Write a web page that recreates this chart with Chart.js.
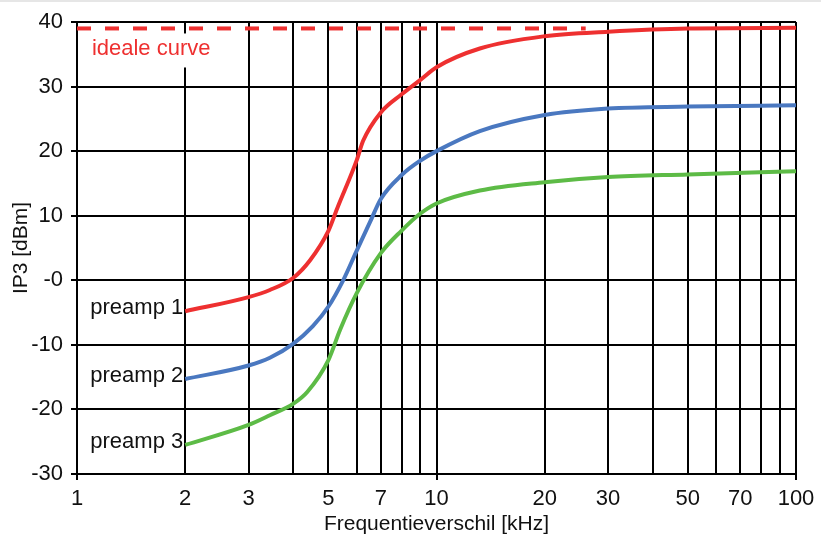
<!DOCTYPE html>
<html>
<head>
<meta charset="utf-8">
<script src="https://cdn.jsdelivr.net/npm/chart.js@4/dist/chart.umd.min.js"></script>
<style>
    html, body { margin: 0; padding: 0; background: #fff; }
    #topBar { position: absolute; left: 0; top: 0; width: 821px; height: 2px; background: #e6e6e6; }
</style>
</head>
<body>
<canvas id="ip3Chart" width="821" height="543"></canvas>
<div id="topBar"></div>
<script>
// frequency offset [kHz] and IP3 [dBm]
const freqPreamp1 = [2, 3, 3.44, 4, 4.45, 5, 5.3, 6, 6.25, 7, 8, 9, 10, 13.2, 20, 30, 50, 100];
const ip3Preamp1 = [-4.8, -2.6, -1.5, 0.4, 3.1, 7.6, 11.2, 18.6, 21.6, 26.0, 28.8, 31.0, 33.0, 35.9, 37.8, 38.5, 39.0, 39.1];

const freqPreamp2 = [2, 3, 3.44, 4, 4.53, 5, 5.5, 6, 6.53, 7, 8, 9, 10, 13.2, 20, 30, 50, 100];
const ip3Preamp2 = [-15.3, -13.2, -12.0, -9.8, -7.1, -4.1, 0, 4.6, 9.0, 12.6, 16.3, 18.5, 20.0, 23.1, 25.6, 26.6, 26.9, 27.1];

const freqPreamp3 = [2, 3, 3.44, 4, 4.37, 5, 5.39, 6, 7, 8, 9, 10, 13.2, 20, 30, 50, 100];
const ip3Preamp3 = [-25.5, -22.4, -20.9, -19.1, -17.3, -12.4, -7.7, -2.0, 4.2, 7.7, 10.3, 11.9, 13.9, 15.2, 16.0, 16.4, 16.9];

const freqIdeal = [1, 26];
const ip3Ideal = [39, 39];

const seriesNames = ['preamp 1', 'preamp 2', 'preamp 3'];
const idealName = 'ideale curve';

const xGridValues = [1, 2, 3, 4, 5, 6, 7, 8, 9, 10, 20, 30, 40, 50, 60, 70, 80, 90, 100];
const xLabelValues = [1, 2, 3, 5, 7, 10, 20, 30, 50, 70, 100];
const xMajorValues = [1, 10, 100];
const yTickValues = [-30, -20, -10, 0, 10, 20, 30, 40];

const RED = '#ee3030';
const BLUE = '#4a78c0';
const GREEN = '#5dbb46';
const FONT = 'Liberation Sans, Arial, sans-serif';

Chart.defaults.font.family = FONT;
Chart.defaults.font.size = 22;
Chart.defaults.color = '#111';

function toPoints(xs, ys) {
    return xs.map((x, i) => ({ x: x, y: ys[i] }));
}

const curveLabels = {
    id: 'curveLabels',
    afterDatasetsDraw(chart) {
        const ctx = chart.ctx;
        const xs = chart.scales.x;
        const ys = chart.scales.y;
        ctx.save();
        ctx.font = '22px ' + FONT;

        // preamp names end where each curve starts
        const starts = [
            [freqPreamp1[0], ip3Preamp1[0]],
            [freqPreamp2[0], ip3Preamp2[0]],
            [freqPreamp3[0], ip3Preamp3[0]]
        ];
        ctx.fillStyle = '#111';
        ctx.textAlign = 'right';
        ctx.textBaseline = 'middle';
        starts.forEach((s, i) => {
            ctx.fillText(seriesNames[i], xs.getPixelForValue(s[0]) - 2, ys.getPixelForValue(s[1]) - 3);
        });

        // ideal curve label on a white box
        const tx = xs.getPixelForValue(1.1);
        const ty = ys.getPixelForValue(35.9);
        const w = ctx.measureText(idealName).width;
        ctx.fillStyle = '#fff';
        ctx.fillRect(tx - 4, ty - 15, w + 8, 34);
        ctx.fillStyle = RED;
        ctx.textAlign = 'left';
        ctx.fillText(idealName, tx, ty);
        ctx.restore();
    }
};

const ctx = document.getElementById('ip3Chart').getContext('2d');
new Chart(ctx, {
    type: 'scatter',
    data: {
        datasets: [
            {
                label: idealName,
                data: toPoints(freqIdeal, ip3Ideal),
                showLine: true,
                borderColor: RED,
                borderWidth: 4,
                borderDash: [14, 14],
                pointRadius: 0
            },
            {
                label: seriesNames[0],
                data: toPoints(freqPreamp1, ip3Preamp1),
                showLine: true,
                borderColor: RED,
                borderWidth: 4,
                cubicInterpolationMode: 'monotone',
                pointRadius: 0
            },
            {
                label: seriesNames[1],
                data: toPoints(freqPreamp2, ip3Preamp2),
                showLine: true,
                borderColor: BLUE,
                borderWidth: 4,
                cubicInterpolationMode: 'monotone',
                pointRadius: 0
            },
            {
                label: seriesNames[2],
                data: toPoints(freqPreamp3, ip3Preamp3),
                showLine: true,
                borderColor: GREEN,
                borderWidth: 4,
                cubicInterpolationMode: 'monotone',
                pointRadius: 0
            }
        ]
    },
    options: {
        responsive: false,
        animation: false,
        layout: {
            padding: { left: 0, right: 25, top: 22, bottom: 0 }
        },
        plugins: {
            legend: { display: false },
            tooltip: { enabled: false }
        },
        scales: {
            x: {
                type: 'logarithmic',
                min: 1,
                max: 100,
                afterBuildTicks: function (scale) {
                    scale.ticks = xGridValues.map(v => ({ value: v, major: xMajorValues.includes(v) }));
                },
                afterFit: function (scale) {
                    scale.height = 69;
                },
                ticks: {
                    autoSkip: false,
                    maxRotation: 0,
                    minRotation: 0,
                    padding: 6,
                    callback: function (value) {
                        return xLabelValues.includes(value) ? String(value) : '';
                    }
                },
                grid: {
                    color: '#000',
                    lineWidth: 2,
                    tickLength: 6,
                    tickColor: function (c) {
                        return c.tick && xMajorValues.includes(c.tick.value) ? '#000' : 'rgba(0,0,0,0)';
                    }
                },
                border: { color: '#000', width: 2 },
                title: {
                    display: true,
                    text: 'Frequentieverschil [kHz]',
                    font: { size: 21 },
                    padding: { top: 0, bottom: 6 }
                }
            },
            y: {
                min: -30,
                max: 40,
                afterBuildTicks: function (scale) {
                    scale.ticks = yTickValues.map(v => ({ value: v }));
                },
                afterFit: function (scale) {
                    scale.width = 77;
                },
                ticks: {
                    padding: 8,
                    callback: function (value) {
                        return value === 0 ? '-0' : String(value);
                    }
                },
                grid: {
                    color: '#000',
                    lineWidth: 2,
                    tickLength: 6
                },
                border: { color: '#000', width: 2 },
                title: {
                    display: true,
                    text: 'IP3 [dBm]',
                    font: { size: 21 },
                    padding: { top: 9, bottom: 0 }
                }
            }
        }
    },
    plugins: [curveLabels]
});
</script>
</body>
</html>
